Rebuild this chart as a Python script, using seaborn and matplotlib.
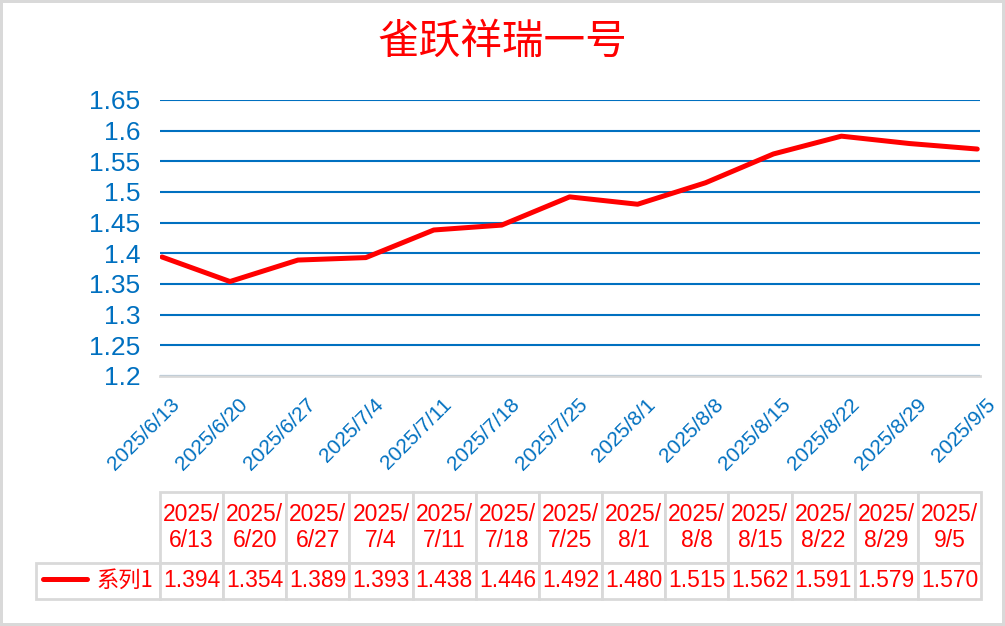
import matplotlib
matplotlib.use('Agg')
import matplotlib.pyplot as plt
import matplotlib.transforms as mtransforms
from matplotlib.table import Table
import seaborn as sns
import pandas as pd

# 数据
title = '雀跃祥瑞一号'
series_name = '系列1'
dates = ['2025/6/13', '2025/6/20', '2025/6/27', '2025/7/4', '2025/7/11', '2025/7/18',
         '2025/7/25', '2025/8/1', '2025/8/8', '2025/8/15', '2025/8/22', '2025/8/29', '2025/9/5']
values = [1.394, 1.354, 1.389, 1.393, 1.438, 1.446, 1.492, 1.480, 1.515, 1.562, 1.591, 1.579, 1.570]
yticks = [1.2, 1.25, 1.3, 1.35, 1.4, 1.45, 1.5, 1.55, 1.6, 1.65]
ytick_labels = ['1.2', '1.25', '1.3', '1.35', '1.4', '1.45', '1.5', '1.55', '1.6', '1.65']

RED = '#FF0000'
BLUE = '#0070C0'
GRAY = '#D9D9D9'

sns.set_style('white')
plt.rcParams['font.family'] = ['Liberation Sans', 'Noto Sans CJK SC']

fig = plt.figure(figsize=(10.05, 6.26), dpi=100)
fig.patch.set_edgecolor(GRAY)
fig.patch.set_linewidth(3)
ax = fig.add_axes([0.1592, 0.3994, 0.8159, 0.4409])

df = pd.DataFrame({'日期': dates, '值': values})
sns.lineplot(data=df, x='日期', y='值', color=RED, linewidth=3.6, sort=False,
             ax=ax, label=series_name)

ax.set_xlim(-0.03, 12.04)
ax.set_ylim(1.2, 1.65)
ax.set_yticks(yticks, labels=ytick_labels)
ax.set_xlabel('')
ax.set_ylabel('')
ax.set_axisbelow(True)
ax.yaxis.grid(True, color=BLUE, linewidth=1.5)
ax.xaxis.grid(False)
for s in ['left', 'right', 'top']:
    ax.spines[s].set_visible(False)
ax.spines['bottom'].set_color(GRAY)
ax.spines['bottom'].set_linewidth(2)

ax.tick_params(axis='y', length=0, pad=14, labelsize=19, labelcolor=BLUE)
ax.tick_params(axis='x', length=0, pad=0, labelsize=15, labelcolor=BLUE)
ax.set_xticks(range(len(dates)), labels=dates)
offset = mtransforms.ScaledTranslation(0.08, -0.19, fig.dpi_scale_trans)
for lbl in ax.get_xticklabels():
    lbl.set_rotation(45)
    lbl.set_ha('right')
    lbl.set_va('top')
    lbl.set_rotation_mode('anchor')
    lbl.set_transform(lbl.get_transform() + offset)

# 标题
fig.text(0.5, 0.933, title, ha='center', va='center', fontsize=30, color=RED,
         family=['Noto Sans CJK SC'])

# 数据表
tbl = Table(ax, bbox=[-0.1512, -0.808, 1.1524, 0.388])
w_leg, w_col = 124, 63.15
h_head, h_val = 71, 36
c = tbl.add_cell(0, 0, w_leg, h_head, text='')
c.visible_edges = 'open'
c = tbl.add_cell(1, 0, w_leg, h_val, text='')
c.set_edgecolor(GRAY)
c.set_linewidth(2)
for j, (d, v) in enumerate(zip(dates, values), start=1):
    y, md = d.split('/', 1)
    for i, (txt, h) in enumerate([(f'{y}/\n{md}', h_head), (f'{v:.3f}', h_val)]):
        c = tbl.add_cell(i, j, w_col, h, text=txt, loc='center')
        c.set_edgecolor(GRAY)
        c.set_linewidth(2)
        c.get_text().set_color(RED)
        c.get_text().set_fontsize(16.5)
tbl.auto_set_font_size(False)
ax.add_table(tbl)

# 图例放在表格左侧单元格
handles, labels = ax.get_legend_handles_labels()
ax.legend(handles, labels, loc='center', bbox_to_anchor=(-0.0756, -0.741),
          frameon=False, handlelength=2.0, handletextpad=0.4,
          prop={'family': ['Noto Sans CJK SC'], 'size': 16}, labelcolor=RED)

fig.savefig('out.png', dpi=100)
